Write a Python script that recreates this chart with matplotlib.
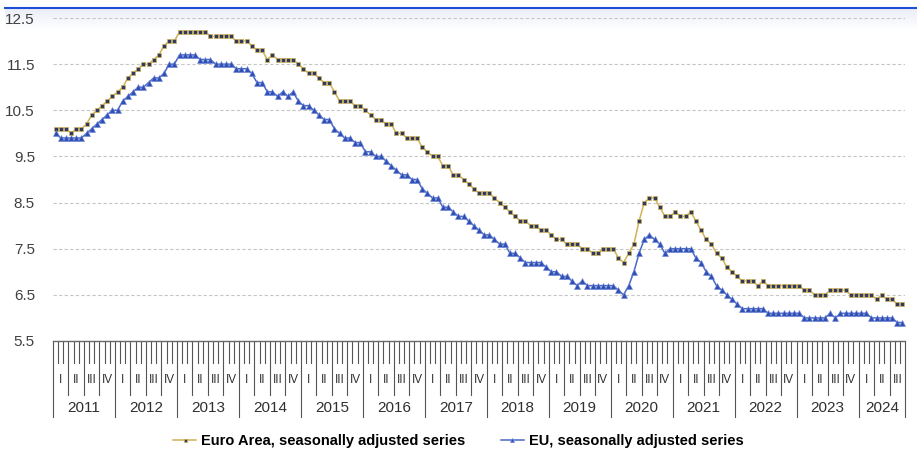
import numpy as np
import matplotlib
matplotlib.use('Agg')
import matplotlib.pyplot as plt
from matplotlib.lines import Line2D

plt.rcParams['font.family'] = ['Liberation Sans', 'DejaVu Sans']

# monthly unemployment rate, Jan 2011 - Sep 2024
years = list(range(2011, 2025))
quarters = ['I', 'II', 'III', 'IV']
months_last_year = 9

euro_area = [10.1, 10.1, 10.1, 10.0, 10.1, 10.1, 10.2, 10.4, 10.5, 10.6, 10.7, 10.8,
             10.9, 11.0, 11.2, 11.3, 11.4, 11.5, 11.5, 11.6, 11.7, 11.9, 12.0, 12.0,
             12.2, 12.2, 12.2, 12.2, 12.2, 12.2, 12.1, 12.1, 12.1, 12.1, 12.1, 12.0,
             12.0, 12.0, 11.9, 11.8, 11.8, 11.6, 11.7, 11.6, 11.6, 11.6, 11.6, 11.5,
             11.4, 11.3, 11.3, 11.2, 11.1, 11.1, 10.9, 10.7, 10.7, 10.7, 10.6, 10.6,
             10.5, 10.4, 10.3, 10.3, 10.2, 10.2, 10.0, 10.0, 9.9, 9.9, 9.9, 9.7,
             9.6, 9.5, 9.5, 9.3, 9.3, 9.1, 9.1, 9.0, 8.9, 8.8, 8.7, 8.7,
             8.7, 8.6, 8.5, 8.4, 8.3, 8.2, 8.1, 8.1, 8.0, 8.0, 7.9, 7.9,
             7.8, 7.7, 7.7, 7.6, 7.6, 7.6, 7.5, 7.5, 7.4, 7.4, 7.5, 7.5,
             7.5, 7.3, 7.2, 7.4, 7.6, 8.1, 8.5, 8.6, 8.6, 8.4, 8.2, 8.2,
             8.3, 8.2, 8.2, 8.3, 8.1, 7.9, 7.7, 7.6, 7.4, 7.3, 7.1, 7.0,
             6.9, 6.8, 6.8, 6.8, 6.7, 6.8, 6.7, 6.7, 6.7, 6.7, 6.7, 6.7,
             6.7, 6.6, 6.6, 6.5, 6.5, 6.5, 6.6, 6.6, 6.6, 6.6, 6.5, 6.5,
             6.5, 6.5, 6.5, 6.4, 6.5, 6.4, 6.4, 6.3, 6.3]

eu = [10.0, 9.9, 9.9, 9.9, 9.9, 9.9, 10.0, 10.1, 10.2, 10.3, 10.4, 10.5,
      10.5, 10.7, 10.8, 10.9, 11.0, 11.0, 11.1, 11.2, 11.2, 11.3, 11.5, 11.5,
      11.7, 11.7, 11.7, 11.7, 11.6, 11.6, 11.6, 11.5, 11.5, 11.5, 11.5, 11.4,
      11.4, 11.4, 11.3, 11.1, 11.1, 10.9, 10.9, 10.8, 10.9, 10.8, 10.9, 10.7,
      10.6, 10.6, 10.5, 10.4, 10.3, 10.3, 10.1, 10.0, 9.9, 9.9, 9.8, 9.8,
      9.6, 9.6, 9.5, 9.5, 9.4, 9.3, 9.2, 9.1, 9.1, 9.0, 9.0, 8.8,
      8.7, 8.6, 8.6, 8.4, 8.4, 8.3, 8.2, 8.2, 8.1, 8.0, 7.9, 7.8,
      7.8, 7.7, 7.6, 7.6, 7.4, 7.4, 7.3, 7.2, 7.2, 7.2, 7.2, 7.1,
      7.0, 7.0, 6.9, 6.9, 6.8, 6.7, 6.8, 6.7, 6.7, 6.7, 6.7, 6.7,
      6.7, 6.6, 6.5, 6.7, 7.0, 7.4, 7.7, 7.8, 7.7, 7.6, 7.4, 7.5,
      7.5, 7.5, 7.5, 7.5, 7.3, 7.2, 7.0, 6.9, 6.7, 6.6, 6.5, 6.4,
      6.3, 6.2, 6.2, 6.2, 6.2, 6.2, 6.1, 6.1, 6.1, 6.1, 6.1, 6.1,
      6.1, 6.0, 6.0, 6.0, 6.0, 6.0, 6.1, 6.0, 6.1, 6.1, 6.1, 6.1,
      6.1, 6.1, 6.0, 6.0, 6.0, 6.0, 6.0, 5.9, 5.9]

ea_label = 'Euro Area, seasonally adjusted series'
eu_label = 'EU, seasonally adjusted series'

n_months = len(euro_area)
x = np.arange(n_months) + 0.5

fig = plt.figure(figsize=(9.17, 4.51), dpi=100)

# pale header band with blue rule at the top
top_ax = fig.add_axes([5 / 917, 1 - 30 / 451, 912 / 917, 22 / 451], zorder=0)
grad = np.linspace(0, 1, 50).reshape(-1, 1)
top_ax.imshow(grad, aspect='auto', cmap=matplotlib.colors.LinearSegmentedColormap.from_list(
    'hdr', ['#e9edf6', '#ffffff']), extent=[0, 1, 0, 1])
top_ax.axis('off')
fig.add_artist(Line2D([5 / 917, 1], [1 - 8 / 451, 1 - 8 / 451], color='#1d4ed8', lw=1.5))

ax = fig.add_axes([53 / 917, 1 - 341 / 451, 852 / 917, 323 / 451], zorder=1)
ax.set_facecolor('none')

ax.plot(x, euro_area, color='#d1b256', lw=1.1, marker='s', ms=2.7,
        mfc='#2f3a5e', mec='#d1b256', mew=0.5, label=ea_label, zorder=3)
ax.plot(x, eu, color='#4a68c8', lw=1.1, marker='^', ms=3.7,
        mfc='#2f4fb5', mec='#6f88d8', mew=0.4, label=eu_label, zorder=3)

ax.set_xlim(0, n_months)
ax.set_ylim(5.5, 12.5)
ax.set_yticks(np.arange(5.5, 12.6, 1.0))
ax.set_yticklabels([f'{v:.1f}' for v in np.arange(5.5, 12.6, 1.0)])
ax.tick_params(axis='y', length=0, pad=13, labelsize=11, labelcolor='#404040')
ax.yaxis.grid(True, linestyle=(0, (3, 2)), color='#c6c6c6', lw=0.8)
ax.set_xticks([])
for s in ['left', 'top', 'right']:
    ax.spines[s].set_visible(False)
ax.spines['bottom'].set_color('#6a6a6a')
ax.spines['bottom'].set_linewidth(1.0)

# month / quarter / year tick structure below the axis
tr = ax.get_xaxis_transform()
tick_col = '#555555'
for m in range(n_months + 1):
    if m % 12 == 0 or m == n_months:
        y_end = -0.235
    elif m % 3 == 0:
        y_end = -0.167
    else:
        y_end = -0.068
    ax.plot([m, m], [0, y_end], transform=tr, color=tick_col, lw=0.8, clip_on=False)

for k, yr in enumerate(years):
    start = 12 * k
    n_in_year = 12 if yr != years[-1] else months_last_year
    ax.text(start + n_in_year / 2, -0.207, str(yr), transform=tr, ha='center',
            va='center', fontsize=11, color='#303030')
    for q in range(n_in_year // 3):
        ax.text(start + 3 * q + 1.5, -0.121, quarters[q], transform=tr, ha='center',
                va='center', fontsize=8.5, color='#303030')

fig.legend(loc='center', bbox_to_anchor=(0.5, 1 - 441 / 451), ncol=2, frameon=False,
           prop={'weight': 'bold', 'size': 10.5}, handlelength=1.6, columnspacing=2.4,
           handletextpad=0.35, markerscale=0.8)

fig.savefig('out.png', dpi=100)
